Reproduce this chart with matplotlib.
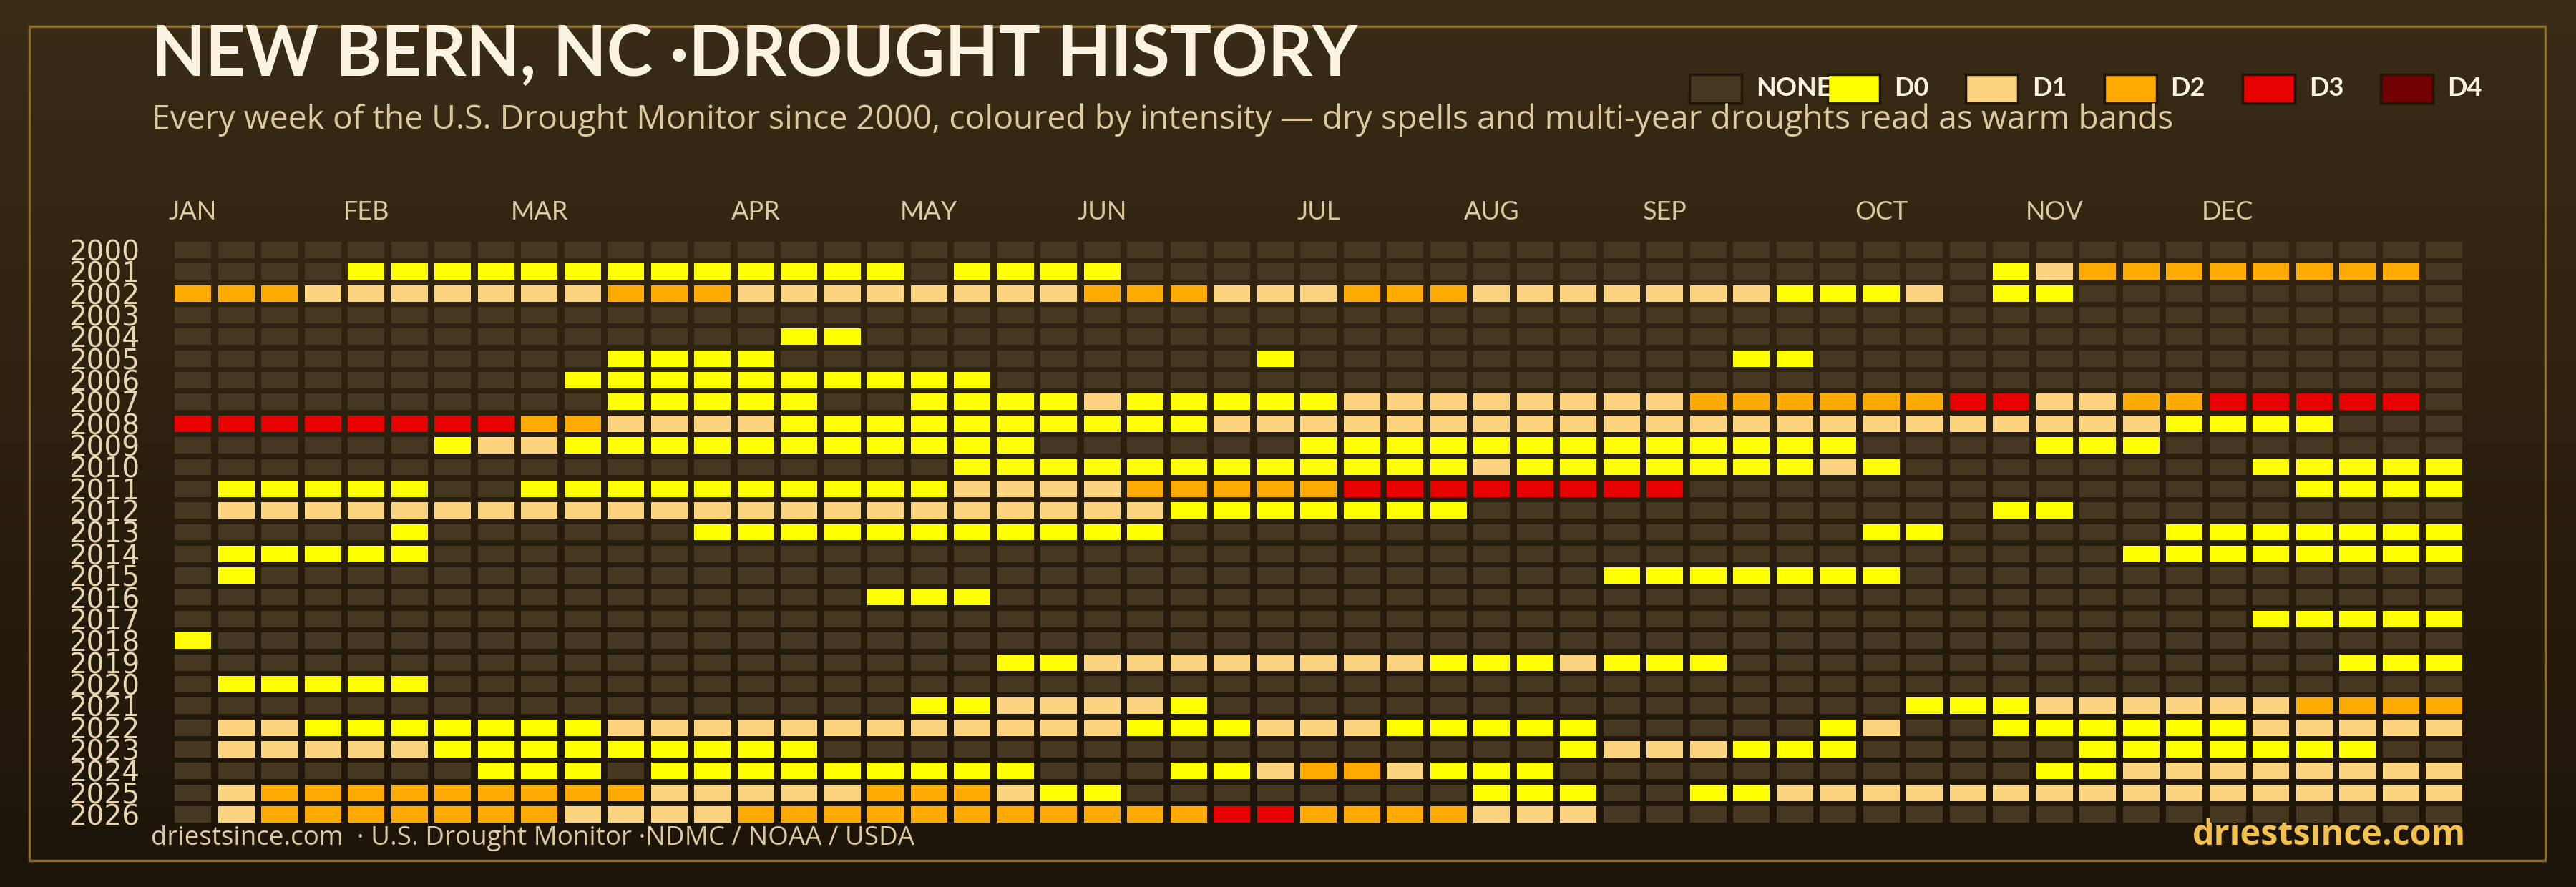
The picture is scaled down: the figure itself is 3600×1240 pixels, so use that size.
import numpy as np
import matplotlib
matplotlib.use("Agg")
import matplotlib.pyplot as plt
from matplotlib.colors import LinearSegmentedColormap
from matplotlib.patches import Rectangle

plt.rcParams['font.family'] = ['Lato', 'DejaVu Sans']
wide = ['Open Sans', 'DejaVu Sans']

# --- data -------------------------------------------------------------
years = list(range(2000, 2027))
# one string per year, one char per week: '.' none, '0'..'4' = D0..D4
# (spaces are only there to group weeks in tens)
weeks_by_year = [
    ".......... .......... .......... .......... .......... ...",  # 2000
    "....000000 0000000.00 00........ .......... ..01222222 22.",  # 2001
    "2221111111 2221111111 1222111222 1111111000 1.00...... ...",  # 2002
    ".......... .......... .......... .......... .......... ...",  # 2003
    ".......... ....00.... .......... .......... .......... ...",  # 2004
    ".......... 0000...... .....0.... ......00.. .......... ...",  # 2005
    ".........0 000000000. .......... .......... .......... ...",  # 2006
    ".......... 00000..000 0100000111 1111122222 2331122333 33.",  # 2007
    "3333333322 1111000000 0000111111 1111111111 1111110000 ...",  # 2008
    "......0110 0000000000 ......0000 000000000. ...000.... ...",  # 2009
    ".......... ........00 0000000000 1000000010 ........00 000",  # 2010
    ".00000..00 0000000011 1122222333 33333..... .........0 000",  # 2011
    ".111111111 1111111111 1110000000 .......... ..00...... ...",  # 2012
    ".....0.... ..00000000 000....... .........0 0.....0000 000",  # 2013
    ".00000.... .......... .......... .......... .....00000 000",  # 2014
    ".0........ .......... .......... ...0000000 .......... ...",  # 2015
    ".......... ......000. .......... .......... .......... ...",  # 2016
    ".......... .......... .......... .......... ........00 000",  # 2017
    "0......... .......... .......... .......... .......... ...",  # 2018
    ".......... .........0 0111111110 001000.... .......... 000",  # 2019
    ".00000.... .......... .......... .......... .......... ...",  # 2020
    ".......... .......001 1110...... .......... 0001111112 222",  # 2021
    ".110000000 1111111111 1100011100 000.....01 ..00000011 111",  # 2022
    ".111110000 00000..... .......... ..0111000. ....000000 0..",  # 2023
    ".......000 .000000000 ...0012210 00........ ...0011111 111",  # 2024
    ".122222222 2111112221 00........ 000..00111 1111111111 111",  # 2025
    ".122222221 1112222222 2222332222 111....... .......... ...",  # 2026
]
levels = ['NONE', 'D0', 'D1', 'D2', 'D3', 'D4']
level_colors = ['#463820', '#ffff00', '#fcd37f', '#ffaa00', '#e60000', '#730000']
months = ['JAN', 'FEB', 'MAR', 'APR', 'MAY', 'JUN', 'JUL', 'AUG', 'SEP', 'OCT', 'NOV', 'DEC']
month_weeks = [0, 4, 8, 13, 17, 21, 26, 30, 34, 39, 43, 47]

grid = [row.replace(' ', '') for row in weeks_by_year]
assert all(len(r) == 53 for r in grid)
code = {'.': 0, '0': 1, '1': 2, '2': 3, '3': 4, '4': 5}

# --- figure -----------------------------------------------------------
W, H = 3600, 1240
fig = plt.figure(figsize=(W / 100, H / 100), dpi=100)

# background with vertical gradient, pixel coordinates
bg = fig.add_axes([0, 0, 1, 1])
bg.set_xlim(0, W)
bg.set_ylim(H, 0)
bg.axis('off')
cmap_bg = LinearSegmentedColormap.from_list('bg', ['#3a2c15', '#1c1409'])
bg.imshow(np.linspace(0, 1, 256).reshape(-1, 1), cmap=cmap_bg, aspect='auto',
          extent=[0, W, H, 0], zorder=0)
bg.add_patch(Rectangle((41, 37), 3516, 1166, fill=False, edgecolor='#8b6b35',
                       linewidth=2.5, zorder=1))

cream = '#fbf3e2'
tan = '#dcc9a0'

bg.text(212, 106, 'NEW BERN, NC ·DROUGHT HISTORY', fontsize=70, fontweight='bold',
        color=cream, va='baseline', ha='left')
bg.text(212, 180, 'Every week of the U.S. Drought Monitor since 2000, coloured by intensity '
        '\u2014 dry spells and multi-year droughts read as warm bands',
        fontsize=33.3, color=tan, va='baseline', ha='left', family=wide)

# legend
for k, (lab, col) in enumerate(zip(levels, level_colors)):
    x0 = 2361 + k * 193.2
    bg.add_patch(Rectangle((x0, 104), 73, 40, facecolor=col, edgecolor='#1e1608',
                           linewidth=2.5, zorder=2))
    bg.text(x0 + 93, 134, lab, fontsize=26, fontweight='bold', color=cream,
            va='baseline', ha='left')

# footer
bg.text(211, 1181, 'driestsince.com  \u00b7 U.S. Drought Monitor \u00b7NDMC / NOAA / USDA',
        fontsize=26.5, color=tan, va='baseline', ha='left', family=wide)
bg.text(3446, 1181, 'driestsince.com', fontsize=35, fontweight='bold', color='#f2c14e',
        va='baseline', ha='right', family=wide)

# --- heatmap ----------------------------------------------------------
ax = fig.add_axes([244 / W, 1 - 1150 / H, 3197 / W, 812 / H])
ax.patch.set_alpha(0)
cw = 51 / 60.5
ch = 22.8 / 30.35
weeks = np.arange(53)
for j, row in enumerate(grid):
    cols = [level_colors[code[c]] for c in row]
    ax.bar(weeks, ch, width=cw, bottom=j - ch / 2, color=cols, linewidth=0)

ax.set_xlim(-cw / 2, 52 + cw / 2)
ax.set_ylim(len(years) - 1 + ch / 2, -ch / 2)
for s in ax.spines.values():
    s.set_visible(False)

ax.xaxis.tick_top()
ax.set_xticks(month_weeks)
ax.set_xticklabels(months)
ax.set_yticks(range(len(years)))
ax.set_yticklabels([str(y) for y in years], family='DejaVu Sans')
ax.tick_params(axis='x', length=0, pad=18, labelsize=26, labelcolor=tan)
ax.tick_params(axis='y', length=0, pad=35, labelsize=28, labelcolor='#e6d5b0')

fig.savefig('out.png', dpi=100, facecolor='#1c1409')
